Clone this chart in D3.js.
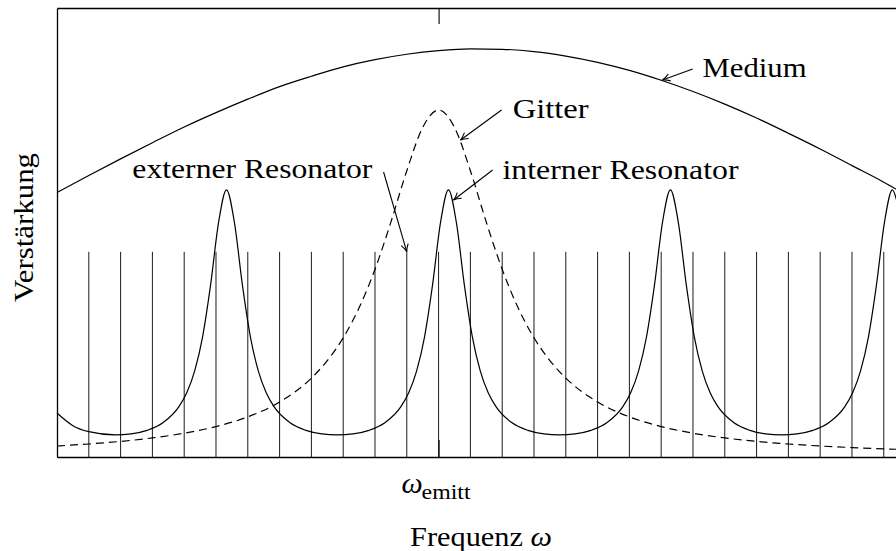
<!DOCTYPE html>
<html>
<head>
<meta charset="utf-8">
<script src="https://cdn.jsdelivr.net/npm/d3@7"></script>
<style>
  body { margin: 0; background: #fff; }
  svg text { font-family: "Liberation Serif", "DejaVu Serif", serif; fill: #000; }
</style>
</head>
<body>
<div id="chart"></div>
<script>
// svg size
var svgWidth = 896;
var svgHeight = 551;

// plot box (right edge runs off the page like the original)
var margin = { top: 8, left: 57, bottom: 94 };
var plotRight = 896.5;

// ---- data ----
// x: frequency in units of the external mode spacing, 0 = omega_emitt
// y: gain, 0..100 over the plot height
var xDomain = [-12, 14.4];
var yDomain = [0, 100];

// external resonator modes (vertical lines)
var modeX = [-11, -10, -9, -8, -7, -6, -5, -4, -3, -2, -1, 0, 1, 2, 3, 4, 5, 6, 7, 8, 9, 10, 11, 12, 13, 14];
var modeHeight = 45.7;

// gain medium
var mediumX = [-12, -11, -10, -9, -8, -7, -6, -5, -4, -3, -2, -1, 0, 1, 2, 3, 4, 5, 6, 7, 8, 9, 10, 11, 12, 13, 14, 14.4];
var mediumY = [58.9, 62.7, 66.4, 70.0, 73.5, 76.7, 79.7, 82.5, 84.8, 86.9, 88.5, 89.7, 90.5, 90.9, 90.8, 90.3, 89.3, 87.9, 86.1, 83.9, 81.4, 78.6, 75.5, 72.1, 68.6, 64.9, 61.2, 59.6];

// grating
var gitterX = [-12, -11, -10, -9, -8, -7, -6, -5, -4, -3.5, -3, -2.5, -2, -1.5, -1, -0.5, 0, 0.5, 1, 1.5, 2, 2.5, 3, 3.5, 4, 5, 6, 7, 8, 9, 10, 11, 12, 13, 14, 14.4];
var gitterY = [2.45, 2.9, 3.47, 4.25, 5.3, 6.78, 8.94, 12.25, 17.58, 21.47, 26.55, 33.22, 41.8, 52.31, 63.76, 73.4, 77.3, 73.4, 63.76, 52.31, 41.8, 33.22, 26.55, 21.47, 17.58, 12.25, 8.94, 6.78, 5.3, 4.25, 3.47, 2.9, 2.45, 2.1, 1.81, 1.72];

// internal resonator
var resX = [-12, -11.5, -11, -10.16,
  -9.67, -9.17, -8.67, -8.17, -7.92, -7.67, -7.42, -7.17, -6.92, -6.67, -6.42, -6.17, -5.92, -5.67, -5.42, -5.17, -4.67, -4.17, -3.67, -3.18,
  -2.69, -2.19, -1.69, -1.19, -0.94, -0.69, -0.44, -0.19, 0.06, 0.31, 0.56, 0.81, 1.06, 1.31, 1.56, 1.81, 2.31, 2.81, 3.31, 3.8,
  4.29, 4.79, 5.29, 5.79, 6.04, 6.29, 6.54, 6.79, 7.04, 7.29, 7.54, 7.79, 8.04, 8.29, 8.54, 8.79, 9.29, 9.79, 10.29, 10.78,
  11.27, 11.77, 12.27, 12.77, 13.02, 13.27, 13.52, 13.77, 14.02, 14.27, 14.4];
var resY = [9.8, 6.98, 5.64, 4.92,
  5.14, 5.93, 7.61, 11.15, 14.31, 19.19, 26.83, 38.32, 52.19, 59.5, 52.19, 38.32, 26.83, 19.19, 14.31, 11.15, 7.61, 5.93, 5.14, 4.92,
  5.14, 5.93, 7.61, 11.15, 14.31, 19.19, 26.83, 38.32, 52.19, 59.5, 52.19, 38.32, 26.83, 19.19, 14.31, 11.15, 7.61, 5.93, 5.14, 4.92,
  5.14, 5.93, 7.61, 11.15, 14.31, 19.19, 26.83, 38.32, 52.19, 59.5, 52.19, 38.32, 26.83, 19.19, 14.31, 11.15, 7.61, 5.93, 5.14, 4.92,
  5.14, 5.93, 7.61, 11.15, 14.31, 19.19, 26.83, 38.32, 52.19, 59.5, 57.3];

// annotations: label, text anchor point, arrow start, arrow tip, text width (px)
var labels = [
  { text: "Medium", x: 8.3, y: 84.6, from: [7.99, 86.4], to: [7.04, 83.96], w: 104 },
  { text: "Gitter", x: 2.33, y: 75.5, from: [1.98, 77.28], to: [0.69, 70.6], w: 76 },
  { text: "interner Resonator", x: 2.01, y: 61.9, from: [1.7, 63.92], to: [0.47, 57.24], w: 236 },
  { text: "externer Resonator", x: -9.63, y: 62.1, from: [-1.73, 63.47], to: [-1.0, 45.7], w: 240 }
];

// ---- svg ----
var svg = d3.select("#chart")
  .append("svg")
  .attr("width", svgWidth)
  .attr("height", svgHeight);

var defs = svg.append("defs");
defs.append("marker")
  .attr("id", "arrow")
  .attr("viewBox", "-9 -5 10 10")
  .attr("refX", 0)
  .attr("refY", 0)
  .attr("markerWidth", 10)
  .attr("markerHeight", 10)
  .attr("markerUnits", "userSpaceOnUse")
  .attr("orient", "auto")
  .append("path")
  .attr("d", "M-7.5,-3.6 C-4.5,-1.6 -1.5,-0.3 0,0 C-1.5,0.3 -4.5,1.6 -7.5,3.6")
  .attr("fill", "none")
  .attr("stroke", "#000")
  .attr("stroke-width", 1.1);

var xScale = d3.scaleLinear().domain(xDomain).range([margin.left, plotRight]);
var yScale = d3.scaleLinear().domain(yDomain).range([svgHeight - margin.bottom, margin.top]);

// frame via axes
var bottomAxis = d3.axisBottom(xScale).tickValues([0]).tickSize(-17).tickSizeOuter(0).tickFormat("");
var topAxis = d3.axisTop(xScale).tickValues([0]).tickSize(-16).tickSizeOuter(0).tickFormat("");
var leftAxis = d3.axisLeft(yScale).tickValues([]).tickSizeOuter(0);

svg.append("g").attr("transform", `translate(0,${yScale(0)})`).call(bottomAxis);
svg.append("g").attr("transform", `translate(0,${yScale(100)})`).call(topAxis);
svg.append("g").attr("transform", `translate(${xScale(xDomain[0])},0)`).call(leftAxis);
svg.selectAll(".domain").attr("stroke", "#000").attr("stroke-width", 1.3);
svg.selectAll(".tick line").attr("stroke", "#000").attr("stroke-width", 1.1);

// external modes
svg.append("g").selectAll("line")
  .data(modeX)
  .enter()
  .append("line")
  .attr("x1", d => xScale(d))
  .attr("x2", d => xScale(d))
  .attr("y1", yScale(0))
  .attr("y2", yScale(modeHeight))
  .attr("stroke", "#000")
  .attr("stroke-width", 0.9);

var line = d3.line()
  .x(d => xScale(d[0]))
  .y(d => yScale(d[1]))
  .curve(d3.curveMonotoneX);

svg.append("path")
  .attr("d", line(d3.zip(mediumX, mediumY)))
  .attr("fill", "none")
  .attr("stroke", "#000")
  .attr("stroke-width", 1.2);

svg.append("path")
  .attr("d", line(d3.zip(gitterX, gitterY)))
  .attr("fill", "none")
  .attr("stroke", "#000")
  .attr("stroke-width", 1.2)
  .attr("stroke-dasharray", "8,5");

svg.append("path")
  .attr("d", line(d3.zip(resX, resY)))
  .attr("fill", "none")
  .attr("stroke", "#000")
  .attr("stroke-width", 1.2);

// annotations
svg.append("g").selectAll("line")
  .data(labels)
  .enter()
  .append("line")
  .attr("x1", d => xScale(d.from[0]))
  .attr("y1", d => yScale(d.from[1]))
  .attr("x2", d => xScale(d.to[0]))
  .attr("y2", d => yScale(d.to[1]))
  .attr("stroke", "#000")
  .attr("stroke-width", 1.1)
  .attr("marker-end", "url(#arrow)");

svg.append("g").selectAll("text")
  .data(labels)
  .enter()
  .append("text")
  .attr("x", d => xScale(d.x))
  .attr("y", d => yScale(d.y))
  .attr("font-size", 28)
  .attr("textLength", d => d.w)
  .attr("lengthAdjust", "spacingAndGlyphs")
  .text(d => d.text);

// omega_emitt under the centre tick
svg.append("text")
  .attr("x", xScale(0) - 37)
  .attr("y", 493)
  .attr("font-size", 30)
  .attr("font-style", "italic")
  .text("ω");
svg.append("text")
  .attr("x", xScale(0) - 17)
  .attr("y", 498.5)
  .attr("font-size", 21)
  .attr("textLength", 49)
  .attr("lengthAdjust", "spacingAndGlyphs")
  .text("emitt");

// axis titles
var xTitle = svg.append("text")
  .attr("x", 410)
  .attr("y", 546)
  .attr("font-size", 28)
  .attr("textLength", 142)
  .attr("lengthAdjust", "spacingAndGlyphs");
xTitle.append("tspan").text("Frequenz ");
xTitle.append("tspan").attr("font-style", "italic").text("ω");

svg.append("text")
  .attr("transform", "translate(33,227.5) rotate(-90)")
  .attr("text-anchor", "middle")
  .attr("font-size", 28)
  .attr("textLength", 149)
  .attr("lengthAdjust", "spacingAndGlyphs")
  .text("Verstärkung");
</script>
</body>
</html>
